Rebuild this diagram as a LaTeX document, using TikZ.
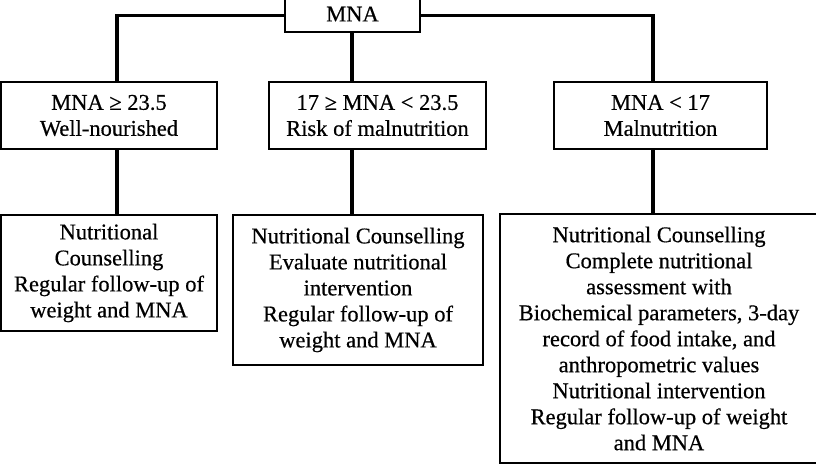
\documentclass[tikz,border=0pt]{standalone}
\usepackage{fontspec}
\setmainfont{Liberation Serif}[FakeBold=0.5]
\usepackage{tikz}
\usetikzlibrary{positioning}
\tikzset{box/.style={rectangle,draw,line width=1.3pt,align=center,inner sep=0pt,font=\fontsize{22.5}{26}\selectfont}}
\tikzset{link/.style={line width=3.8pt}}

\begin{document}
\begin{tikzpicture}[x=1pt,y=-1pt]
    \useasboundingbox (0,0) rectangle (816,466);
    \node[box,minimum width=135,minimum height=36] (mna) at (352.5,14) {MNA};

    \node[box,minimum width=216,minimum height=67] (wn) at (109,115.5) {MNA ≥ 23.5\\Well-nourished};
    \node[box,minimum width=217,minimum height=67] (rm) at (377.5,115.5) {17 ≥ MNA < 23.5\\Risk of malnutrition};
    \node[box,minimum width=213,minimum height=67] (mn) at (660.5,115.5) {MNA < 17\\Malnutrition};

    \node[box,minimum width=216,minimum height=116] (nwn) at (109,273) {Nutritional\\Counselling\\Regular follow-up of\\weight and MNA};
    \node[box,minimum width=250,minimum height=150] (nrm) at (358,290) {Nutritional Counselling\\Evaluate nutritional\\intervention\\Regular follow-up of\\weight and MNA};
    \node[box,minimum width=318,minimum height=249] (nmn) at (659,338.5) {Nutritional Counselling\\Complete nutritional\\assessment with\\Biochemical parameters, 3-day\\record of food intake, and\\anthropometric values\\Nutritional intervention\\Regular follow-up of weight\\and MNA};

    \coordinate (ca) at (117,0);
    \coordinate (cb) at (352,0);
    \coordinate (cc) at (653,0);

    \draw [link] (mna.west |- 0,15.5) -| (ca |- wn.north);
    \draw [link] (mna.south -| cb) -- (cb |- rm.north);
    \draw [link] (mna.east |- 0,15.5) -| (cc |- mn.north);
    \draw [link] (ca |- wn.south) -- (ca |- nwn.north);
    \draw [link] (cb |- rm.south) -- (cb |- nrm.north);
    \draw [link] (cc |- mn.south) -- (cc |- nmn.north);
\end{tikzpicture}
\end{document}
